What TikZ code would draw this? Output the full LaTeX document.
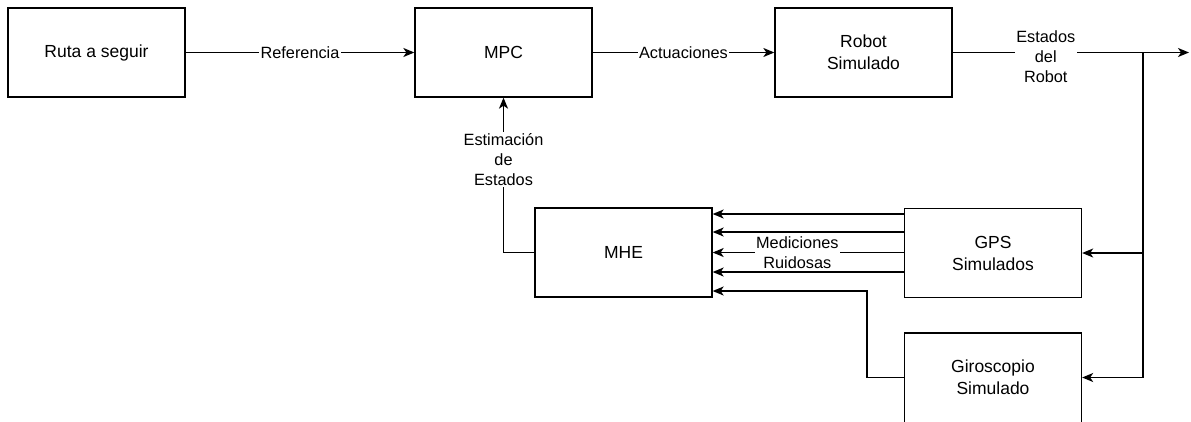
\documentclass[tikz,border=0pt]{standalone}
\usepackage{fontspec}
\setmainfont{Liberation Sans}
\usetikzlibrary{arrows.meta}
\begin{document}
\begin{tikzpicture}[x=1pt,y=-1pt,
  blk/.style={draw, line width=1.3pt, minimum width=177pt, minimum height=89pt, inner sep=0pt, align=center, font=\fontsize{17.5}{22}\selectfont},
  conn/.style={line width=1.3pt},
  arr/.style={conn, -{Stealth[length=11pt,width=9pt,inset=3pt]}},
  lbl/.style={fill=white, inner sep=1.5pt, align=center, font=\fontsize{16.3}{20}\selectfont}]
\useasboundingbox (0,0) rectangle (1191,421);
\node[blk] (ruta) at (96.5,52.5) {Ruta a seguir};
\node[blk] (mpc) at (503.5,52.5) {MPC};
\node[blk] (robot) at (863.5,52.5) {Robot\\Simulado};
\node[blk] (mhe) at (623.5,252.5) {MHE};
\node[blk] (gps) at (993,253) {GPS\\Simulados};
\node[blk, minimum height=93pt, text depth=4pt] (giro) at (993,379.5) {Giroscopio\\Simulado};
\coordinate (out) at (1189,52.5);
\coordinate (br) at (1143,52.5);
\coordinate (gk) at (867,377.5);
\coordinate (g1) at ([yshift=39pt]gps.west);
\coordinate (g2) at ([yshift=21pt]gps.west);
\coordinate (g3) at ([yshift=0.5pt]gps.west);
\coordinate (g4) at ([yshift=-19pt]gps.west);
\coordinate (m5) at ([yshift=-38.5pt]mhe.east);
\coordinate (ge) at (giro.east |- gk);
\coordinate (gw) at (giro.west |- gk);
\draw[arr] (ruta) -- node[lbl]{Referencia} (mpc);
\draw[arr] (mpc) -- node[lbl]{Actuaciones} (robot);
\draw[arr] (robot) -- node[lbl, pos=0.394, yshift=-4pt]{Estados\\del\\Robot} (out);
\draw[arr] (br) |- (gps.east);
\draw[arr] (br) |- (ge);
\draw[arr] (g1) -- (g1 -| mhe.east);
\draw[arr] (g2) -- (g2 -| mhe.east);
\draw[arr] (g3) -- node[lbl, pos=0.557]{Mediciones\\Ruidosas} (g3 -| mhe.east);
\draw[arr] (g4) -- (g4 -| mhe.east);
\draw[arr] (gw) -- (gk) |- (m5);
\draw[arr] (mhe.west) -| node[lbl, pos=0.8]{Estimación\\de\\Estados} (mpc.south);
\end{tikzpicture}
\end{document}
